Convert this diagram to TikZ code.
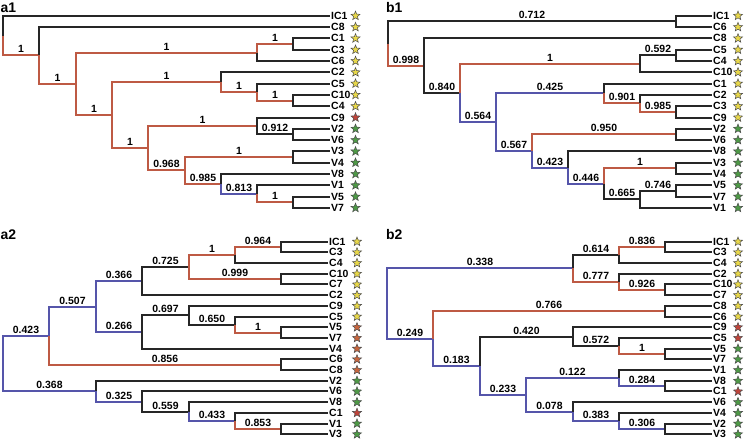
\documentclass[tikz,border=0pt]{standalone}
\usepackage{fontspec}
\setmainfont{Liberation Sans}
\usetikzlibrary{shapes.geometric}
\definecolor{redE}{HTML}{BE5A44}
\definecolor{bluE}{HTML}{5555AA}
\definecolor{stY}{HTML}{E8D84A}
\definecolor{stG}{HTML}{4E9A46}
\definecolor{stR}{HTML}{C0443A}
\definecolor{stO}{HTML}{C8663E}
\tikzset{
  br/.style={line width=2bp},
  kE/.style={br, draw=black!85},
  rE/.style={br, draw=redE},
  bE/.style={br, draw=bluE},
  lab/.style={anchor=south, inner sep=0pt, yshift=2pt, font=\bfseries\fontsize{10.5}{10.5}\selectfont},
  leaf/.style={anchor=west, inner sep=1pt, font=\bfseries\fontsize{10.5}{10.5}\selectfont},
  st/.style={star, star points=5, star point ratio=2.3, minimum size=9.5pt, inner sep=0pt, draw=black!70, line width=0.5pt},
  plabel/.style={anchor=base west, inner sep=0pt, font=\bfseries\fontsize{14}{14}\selectfont}
}
\newcommand\tedge[4]{\draw[#1] (#2) |- (#3); \path (#2 |- #3) -- node[lab]{#4} (#3);}
\newcommand\tlf[2]{\draw[kE] (#1) |- (#2.west);}
\newcommand\nc[3]{\coordinate (#1) at ({round(#2)},{round(#3)});}
\begin{document}
\begin{tikzpicture}[x=1bp,y=-1bp]
\fill[white] (0,0) rectangle (745,440);
\useasboundingbox (0,0) rectangle (745,440);

% panel labels
\node[plabel] (pa1) at (0.5,12.5) {a1};
\node[plabel] (pb1) at (386,12.5) {b1};
\node[plabel] (pa2) at (0.5,240) {a2};
\node[plabel] (pb2) at (386,240) {b2};

% ===== a1 =====
\foreach \n/\c [count=\i from 0] in {IC1/Y,C8/Y,C1/Y,C3/Y,C6/Y,C2/Y,C5/Y,C10/Y,C4/Y,C9/R,V2/G,V6/G,V3/G,V4/G,V8/G,V1/G,V5/G,V7/G}{
  \node[leaf] (a1\n) at (330,{round(15.8+11.3*\i)}) {\n};
  \node[st, fill=st\c] (a1\n-s) at (355.5,{15.8+11.3*\i}) {};
}
\nc{a1r}{3}{35.64}
\nc{a1n1}{39.3}{55.48}
\nc{a1n2}{75.6}{83.86}
\nc{a1n3}{257.1}{52.53}
\nc{a1n4}{111.9}{115.20}
\nc{a1n5}{293.4}{44.05}
\nc{a1n6}{220.8}{82.19}
\nc{a1n7}{148.2}{148.22}
\nc{a1n8}{257.1}{92.08}
\nc{a1n9}{293.4}{100.55}
\nc{a1n10}{257.1}{125.98}
\nc{a1n11}{184.5}{170.47}
\nc{a1n12}{293.4}{134.45}
\nc{a1n13}{293.4}{157.05}
\nc{a1n14}{220.8}{183.89}
\nc{a1n15}{257.1}{193.78}
\nc{a1n16}{293.4}{202.25}
\tlf{a1r}{a1IC1}
\tedge{rE}{a1r}{a1n1}{1}
\tlf{a1n1}{a1C8}
\tedge{rE}{a1n1}{a1n2}{1}
\tedge{rE}{a1n2}{a1n3}{1}
\tedge{rE}{a1n2}{a1n4}{1}
\tedge{rE}{a1n3}{a1n5}{1}
\tlf{a1n3}{a1C6}
\tlf{a1n5}{a1C1}
\tlf{a1n5}{a1C3}
\tedge{rE}{a1n4}{a1n6}{1}
\tedge{rE}{a1n4}{a1n7}{1}
\tlf{a1n6}{a1C2}
\tedge{rE}{a1n6}{a1n8}{1}
\tlf{a1n8}{a1C5}
\tedge{rE}{a1n8}{a1n9}{1}
\tlf{a1n9}{a1C10}
\tlf{a1n9}{a1C4}
\tedge{rE}{a1n7}{a1n10}{1}
\tedge{rE}{a1n7}{a1n11}{0.968}
\tlf{a1n10}{a1C9}
\tedge{kE}{a1n10}{a1n12}{0.912}
\tlf{a1n12}{a1V2}
\tlf{a1n12}{a1V6}
\tedge{rE}{a1n11}{a1n13}{1}
\tedge{rE}{a1n11}{a1n14}{0.985}
\tlf{a1n13}{a1V3}
\tlf{a1n13}{a1V4}
\tlf{a1n14}{a1V8}
\tedge{bE}{a1n14}{a1n15}{0.813}
\tlf{a1n15}{a1V1}
\tedge{rE}{a1n15}{a1n16}{1}
\tlf{a1n16}{a1V5}
\tlf{a1n16}{a1V7}

% ===== b1 =====
\foreach \n/\c [count=\i from 0] in {IC1/Y,C6/Y,C8/Y,C5/Y,C4/Y,C10/Y,C1/Y,C2/Y,C3/Y,C9/Y,V2/G,V6/G,V8/G,V3/G,V4/G,V5/G,V7/G,V1/G}{
  \node[leaf] (b1\n) at (712,{round(15.8+11.3*\i)}) {\n};
  \node[st, fill=st\c] (b1\n-s) at (738,{15.8+11.3*\i}) {};
}
\nc{b1r}{388}{43.59}
\nc{b1A}{676}{21.45}
\nc{b1B}{424}{65.72}
\nc{b1C}{460}{93.05}
\nc{b1D}{640}{63.83}
\nc{b1E}{496}{122.27}
\nc{b1F}{676}{55.35}
\nc{b1G}{604}{93.49}
\nc{b1H}{532}{151.05}
\nc{b1I}{640}{103.38}
\nc{b1J}{676}{111.85}
\nc{b1K}{676}{134.45}
\nc{b1L}{568}{167.65}
\nc{b1M}{604}{183.89}
\nc{b1N}{676}{168.35}
\nc{b1O}{640}{199.43}
\nc{b1P}{676}{190.95}
\tedge{kE}{b1r}{b1A}{0.712}
\tedge{rE}{b1r}{b1B}{0.998}
\tlf{b1A}{b1IC1}
\tlf{b1A}{b1C6}
\tlf{b1B}{b1C8}
\tedge{kE}{b1B}{b1C}{0.840}
\tedge{rE}{b1C}{b1D}{1}
\tedge{bE}{b1C}{b1E}{0.564}
\tedge{kE}{b1D}{b1F}{0.592}
\tlf{b1D}{b1C10}
\tlf{b1F}{b1C5}
\tlf{b1F}{b1C4}
\tedge{bE}{b1E}{b1G}{0.425}
\tedge{bE}{b1E}{b1H}{0.567}
\tlf{b1G}{b1C1}
\tedge{rE}{b1G}{b1I}{0.901}
\tlf{b1I}{b1C2}
\tedge{rE}{b1I}{b1J}{0.985}
\tlf{b1J}{b1C3}
\tlf{b1J}{b1C9}
\tedge{rE}{b1H}{b1K}{0.950}
\tedge{bE}{b1H}{b1L}{0.423}
\tlf{b1K}{b1V2}
\tlf{b1K}{b1V6}
\tlf{b1L}{b1V8}
\tedge{bE}{b1L}{b1M}{0.446}
\tedge{rE}{b1M}{b1N}{1}
\tedge{kE}{b1M}{b1O}{0.665}
\tlf{b1N}{b1V3}
\tlf{b1N}{b1V4}
\tedge{kE}{b1O}{b1P}{0.746}
\tlf{b1O}{b1V1}
\tlf{b1P}{b1V5}
\tlf{b1P}{b1V7}

% ===== a2 =====
\foreach \n/\c [count=\i from 0] in {IC1/Y,C3/Y,C4/Y,C10/Y,C7/Y,C2/Y,C9/Y,C5/Y,V5/O,V7/O,V4/O,C6/O,C8/O,V2/G,V6/G,V8/G,C1/R,V1/G,V3/G}{
  \node[leaf] (a2\n) at (328,{round(241.7+10.7*\i)}) {\n};
  \node[st, fill=st\c] (a2\n-s) at (357,{241.7+10.7*\i}) {};
}
\nc{a2r}{3}{363.41}
\nc{a2p1}{49.4}{335.66}
\nc{a2p2}{95.8}{391.17}
\nc{a2p3}{95.8}{306.57}
\nc{a2p4}{281.4}{364.75}
\nc{a2p5}{142.2}{281.16}
\nc{a2p6}{142.2}{331.98}
\nc{a2q}{188.6}{267.11}
\nc{a2pb}{235}{255.08}
\nc{a2pa}{281.4}{247.05}
\nc{a2pc}{281.4}{279.15}
\nc{a2p8}{188.6}{315.26}
\nc{a2p9}{235}{324.63}
\nc{a2p10}{281.4}{332.65}
\nc{a2p11}{142.2}{401.53}
\nc{a2p12}{188.6}{411.56}
\nc{a2p13}{235}{420.93}
\nc{a2p14}{281.4}{428.95}
\tedge{bE}{a2r}{a2p1}{0.423}
\tedge{bE}{a2r}{a2p2}{0.368}
\tedge{bE}{a2p1}{a2p3}{0.507}
\tedge{rE}{a2p1}{a2p4}{0.856}
\tedge{bE}{a2p3}{a2p5}{0.366}
\tedge{bE}{a2p3}{a2p6}{0.266}
\tedge{kE}{a2p5}{a2q}{0.725}
\tlf{a2p5}{a2C2}
\tedge{rE}{a2q}{a2pb}{1}
\tedge{rE}{a2q}{a2pc}{0.999}
\tedge{rE}{a2pb}{a2pa}{0.964}
\tlf{a2pb}{a2C4}
\tlf{a2pa}{a2IC1}
\tlf{a2pa}{a2C3}
\tlf{a2pc}{a2C10}
\tlf{a2pc}{a2C7}
\tedge{kE}{a2p6}{a2p8}{0.697}
\tlf{a2p6}{a2V4}
\tlf{a2p8}{a2C9}
\tedge{kE}{a2p8}{a2p9}{0.650}
\tlf{a2p9}{a2C5}
\tedge{rE}{a2p9}{a2p10}{1}
\tlf{a2p10}{a2V5}
\tlf{a2p10}{a2V7}
\tlf{a2p4}{a2C6}
\tlf{a2p4}{a2C8}
\tlf{a2p2}{a2V2}
\tedge{bE}{a2p2}{a2p11}{0.325}
\tlf{a2p11}{a2V6}
\tedge{kE}{a2p11}{a2p12}{0.559}
\tlf{a2p12}{a2V8}
\tedge{bE}{a2p12}{a2p13}{0.433}
\tlf{a2p13}{a2C1}
\tedge{rE}{a2p13}{a2p14}{0.853}
\tlf{a2p14}{a2V1}
\tlf{a2p14}{a2V3}

% ===== b2 =====
\foreach \n/\c [count=\i from 0] in {IC1/Y,C3/Y,C4/Y,C2/Y,C10/Y,C7/Y,C8/Y,C6/Y,C9/R,C5/R,V5/G,V7/G,V1/G,V8/G,C1/R,V6/G,V4/G,V2/G,V3/G}{
  \node[leaf] (b2\n) at (712,{round(241.7+10.7*\i)}) {\n};
  \node[st, fill=st\c] (b2\n-s) at (738,{241.7+10.7*\i}) {};
}
\nc{b2r}{387}{303.48}
\nc{b2r1}{572.6}{268.45}
\nc{b2r2}{619}{255.08}
\nc{b2r3}{619}{281.83}
\nc{b2r4}{665.4}{247.05}
\nc{b2r5}{665.4}{289.85}
\nc{b2s1}{433.4}{338.5}
\nc{b2s2}{665.4}{311.25}
\nc{b2s3}{479.8}{365.75}
\nc{b2s4}{572.6}{336.66}
\nc{b2s5}{526.2}{394.84}
\nc{b2s6}{619}{346.03}
\nc{b2s7}{665.4}{354.05}
\nc{b2s8}{619}{378.13}
\nc{b2s9}{665.4}{386.15}
\nc{b2s10}{572.6}{411.56}
\nc{b2s11}{619}{420.93}
\nc{b2s12}{665.4}{428.95}
\tedge{bE}{b2r}{b2r1}{0.338}
\tedge{bE}{b2r}{b2s1}{0.249}
\tedge{kE}{b2r1}{b2r2}{0.614}
\tedge{rE}{b2r1}{b2r3}{0.777}
\tedge{rE}{b2r2}{b2r4}{0.836}
\tlf{b2r2}{b2C4}
\tlf{b2r4}{b2IC1}
\tlf{b2r4}{b2C3}
\tlf{b2r3}{b2C2}
\tedge{rE}{b2r3}{b2r5}{0.926}
\tlf{b2r5}{b2C10}
\tlf{b2r5}{b2C7}
\tedge{rE}{b2s1}{b2s2}{0.766}
\tedge{bE}{b2s1}{b2s3}{0.183}
\tlf{b2s2}{b2C8}
\tlf{b2s2}{b2C6}
\tedge{kE}{b2s3}{b2s4}{0.420}
\tedge{bE}{b2s3}{b2s5}{0.233}
\tlf{b2s4}{b2C9}
\tedge{kE}{b2s4}{b2s6}{0.572}
\tlf{b2s6}{b2C5}
\tedge{rE}{b2s6}{b2s7}{1}
\tlf{b2s7}{b2V5}
\tlf{b2s7}{b2V7}
\tedge{bE}{b2s5}{b2s8}{0.122}
\tedge{bE}{b2s5}{b2s10}{0.078}
\tlf{b2s8}{b2V1}
\tedge{bE}{b2s8}{b2s9}{0.284}
\tlf{b2s9}{b2V8}
\tlf{b2s9}{b2C1}
\tlf{b2s10}{b2V6}
\tedge{bE}{b2s10}{b2s11}{0.383}
\tlf{b2s11}{b2V4}
\tedge{bE}{b2s11}{b2s12}{0.306}
\tlf{b2s12}{b2V2}
\tlf{b2s12}{b2V3}
\end{tikzpicture}
\end{document}
